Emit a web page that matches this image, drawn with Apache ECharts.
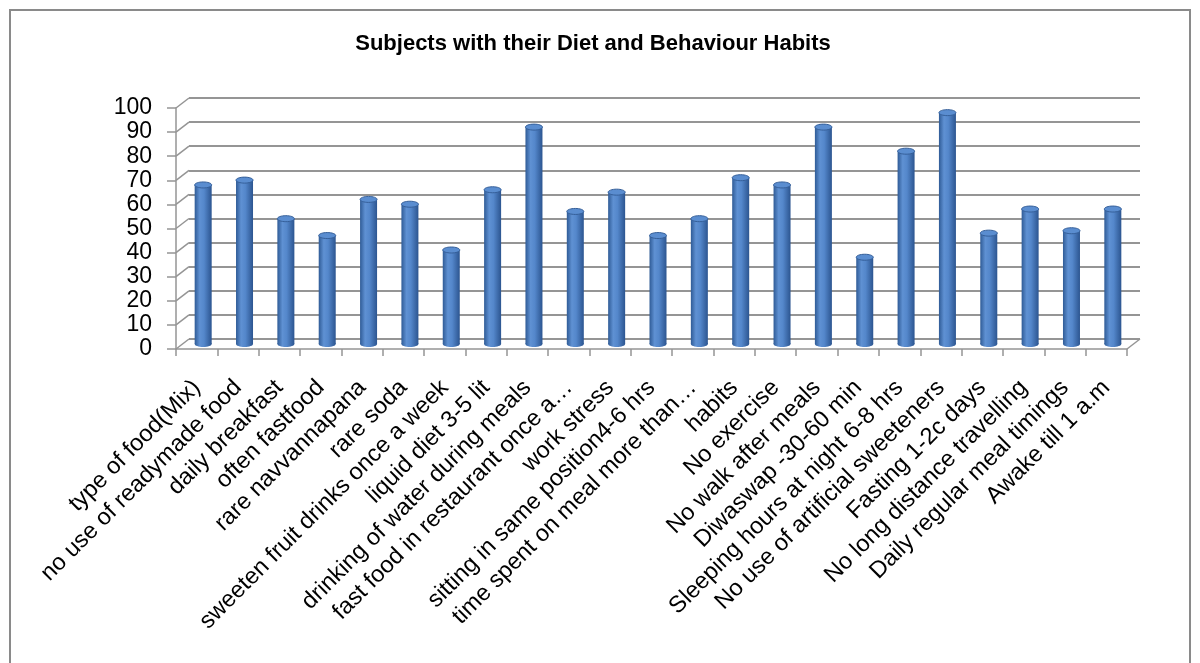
<!DOCTYPE html>
<html>
<head>
<meta charset="utf-8">
<script src="https://cdn.jsdelivr.net/npm/echarts@6/dist/echarts.min.js"></script>
<style>
    html, body { margin: 0; padding: 0; background: #fff; }
    #chart { width: 1200px; height: 663px; }
</style>
</head>
<body>
<div id="chart"></div>
<script>
// data
const categories = [
    'type of food(Mix)',
    'no use of readymade food',
    'daily breakfast',
    'often fastfood',
    'rare navvannapana',
    'rare soda',
    'sweeten fruit drinks once a week',
    'liquid diet 3-5 lit',
    'drinking of water during meals',
    'fast food in restaurant once a\u2026',
    'work stress',
    'sitting in same position4-6 hrs',
    'time spent on meal more than\u2026',
    'habits',
    'No exercise',
    'No walk after meals',
    'Diwaswap -30-60 min',
    'Sleeping hours at night 6-8 hrs',
    'No use of artificial sweeteners',
    'Fasting 1-2c days',
    'No long distance travelling',
    'Daily regular meal timings',
    'Awake till 1 a.m'
];
const values = [66, 68, 52, 45, 60, 58, 39, 64, 90, 55, 63, 45, 52, 69, 66, 90, 36, 80, 96, 46, 56, 47, 56];
const yTicks = [0, 10, 20, 30, 40, 50, 60, 70, 80, 90, 100];

const FONT = "'Liberation Sans', Arial, sans-serif";
const GRID_COLOR = '#959595';
const DEPTH_X = 13;   // 3d wall depth
const DEPTH_Y = 10;

const chart = echarts.init(document.getElementById('chart'));

const option = {
    backgroundColor: '#fff',
    animation: false,
    title: {
        text: 'Subjects with their Diet and Behaviour Habits',
        left: 593,
        textAlign: 'center',
        top: 33,
        padding: 0,
        textStyle: { fontFamily: FONT, fontSize: 22, fontWeight: 'bold', color: '#000' }
    },
    graphic: [
        {
            type: 'rect',
            shape: { x: 10, y: 10, width: 1180, height: 700 },
            style: { fill: 'none', stroke: '#8a8a8a', lineWidth: 2 },
            silent: true
        }
    ],
    grid: [
        // front (axes + labels)
        { left: 176, right: 73, top: 108, bottom: 314 },
        // back wall (gridlines)
        { left: 176 + DEPTH_X, right: 73 - DEPTH_X, top: 108 - DEPTH_Y, bottom: 314 + DEPTH_Y },
        // bars at mid depth
        { left: 176 + DEPTH_X / 2, right: 73 - DEPTH_X / 2, top: 108 - DEPTH_Y / 2, bottom: 314 + DEPTH_Y / 2 }
    ],
    xAxis: [
        {
            gridIndex: 0,
            type: 'category',
            data: categories,
            boundaryGap: true,
            axisLine: { lineStyle: { color: GRID_COLOR, width: 1.5 } },
            axisTick: { show: true, interval: 0, length: 7, lineStyle: { color: GRID_COLOR, width: 1.5 } },
            axisLabel: {
                interval: 0,
                rotate: 45,
                margin: 35,
                fontFamily: FONT,
                fontSize: 23.5,
                color: '#000'
            }
        },
        { gridIndex: 1, type: 'category', data: categories, show: false },
        { gridIndex: 2, type: 'category', data: categories, show: false }
    ],
    yAxis: [
        {
            gridIndex: 0,
            type: 'value',
            min: 0,
            max: 100,
            interval: 10,
            axisLine: { show: true, lineStyle: { color: GRID_COLOR, width: 1.5 } },
            axisTick: { show: true, length: 9, lineStyle: { color: GRID_COLOR, width: 1.5 } },
            splitLine: { show: false },
            axisLabel: { margin: 24, fontFamily: FONT, fontSize: 23, color: '#000' }
        },
        {
            gridIndex: 1,
            type: 'value',
            min: 0,
            max: 100,
            interval: 10,
            axisLine: { show: false },
            axisTick: { show: false },
            axisLabel: { show: false },
            splitLine: { show: true, lineStyle: { color: GRID_COLOR, width: 2 } }
        },
        { gridIndex: 2, type: 'value', min: 0, max: 100, interval: 10, show: false, splitLine: { show: false } }
    ],
    series: [
        {
            // side wall / floor diagonals
            type: 'custom',
            xAxisIndex: 0,
            yAxisIndex: 0,
            silent: true,
            data: yTicks.map(v => [0, v]),
            encode: { x: 0, y: 1 },
            renderItem: function (params, api) {
                const cs = params.coordSys;
                const y = api.coord([0, api.value(1)])[1];
                const style = { stroke: GRID_COLOR, lineWidth: 1.5 };
                const children = [{
                    type: 'line',
                    shape: { x1: cs.x, y1: y, x2: cs.x + DEPTH_X, y2: y - DEPTH_Y },
                    style: style
                }];
                if (api.value(1) === 0) {
                    children.push({
                        type: 'line',
                        shape: { x1: cs.x + cs.width, y1: y, x2: cs.x + cs.width + DEPTH_X, y2: y - DEPTH_Y },
                        style: style
                    });
                }
                return { type: 'group', children: children };
            },
            z: 1
        },
        {
            // cylinders
            type: 'custom',
            xAxisIndex: 2,
            yAxisIndex: 2,
            data: values.map((v, i) => [i, v]),
            encode: { x: 0, y: 1 },
            renderItem: function (params, api) {
                const top = api.coord([api.value(0), api.value(1)]);
                const base = api.coord([api.value(0), 0]);
                const w = 17, rx = 8.5, ry = 3;
                const body = new echarts.graphic.LinearGradient(0, 0, 1, 0, [
                    { offset: 0, color: '#2f5b96' },
                    { offset: 0.3, color: '#5f91d3' },
                    { offset: 0.55, color: '#5487cb' },
                    { offset: 1, color: '#2c5590' }
                ]);
                return {
                    type: 'group',
                    children: [
                        {
                            type: 'ellipse',
                            shape: { cx: base[0], cy: base[1], rx: rx, ry: ry },
                            style: { fill: body }
                        },
                        {
                            type: 'rect',
                            shape: { x: top[0] - w / 2, y: top[1], width: w, height: base[1] - top[1] },
                            style: { fill: body }
                        },
                        {
                            type: 'ellipse',
                            shape: { cx: top[0], cy: top[1], rx: rx, ry: ry },
                            style: { fill: '#5a8dd0', stroke: '#355f99', lineWidth: 1 }
                        }
                    ]
                };
            },
            z: 3
        }
    ]
};

chart.setOption(option);
</script>
</body>
</html>
